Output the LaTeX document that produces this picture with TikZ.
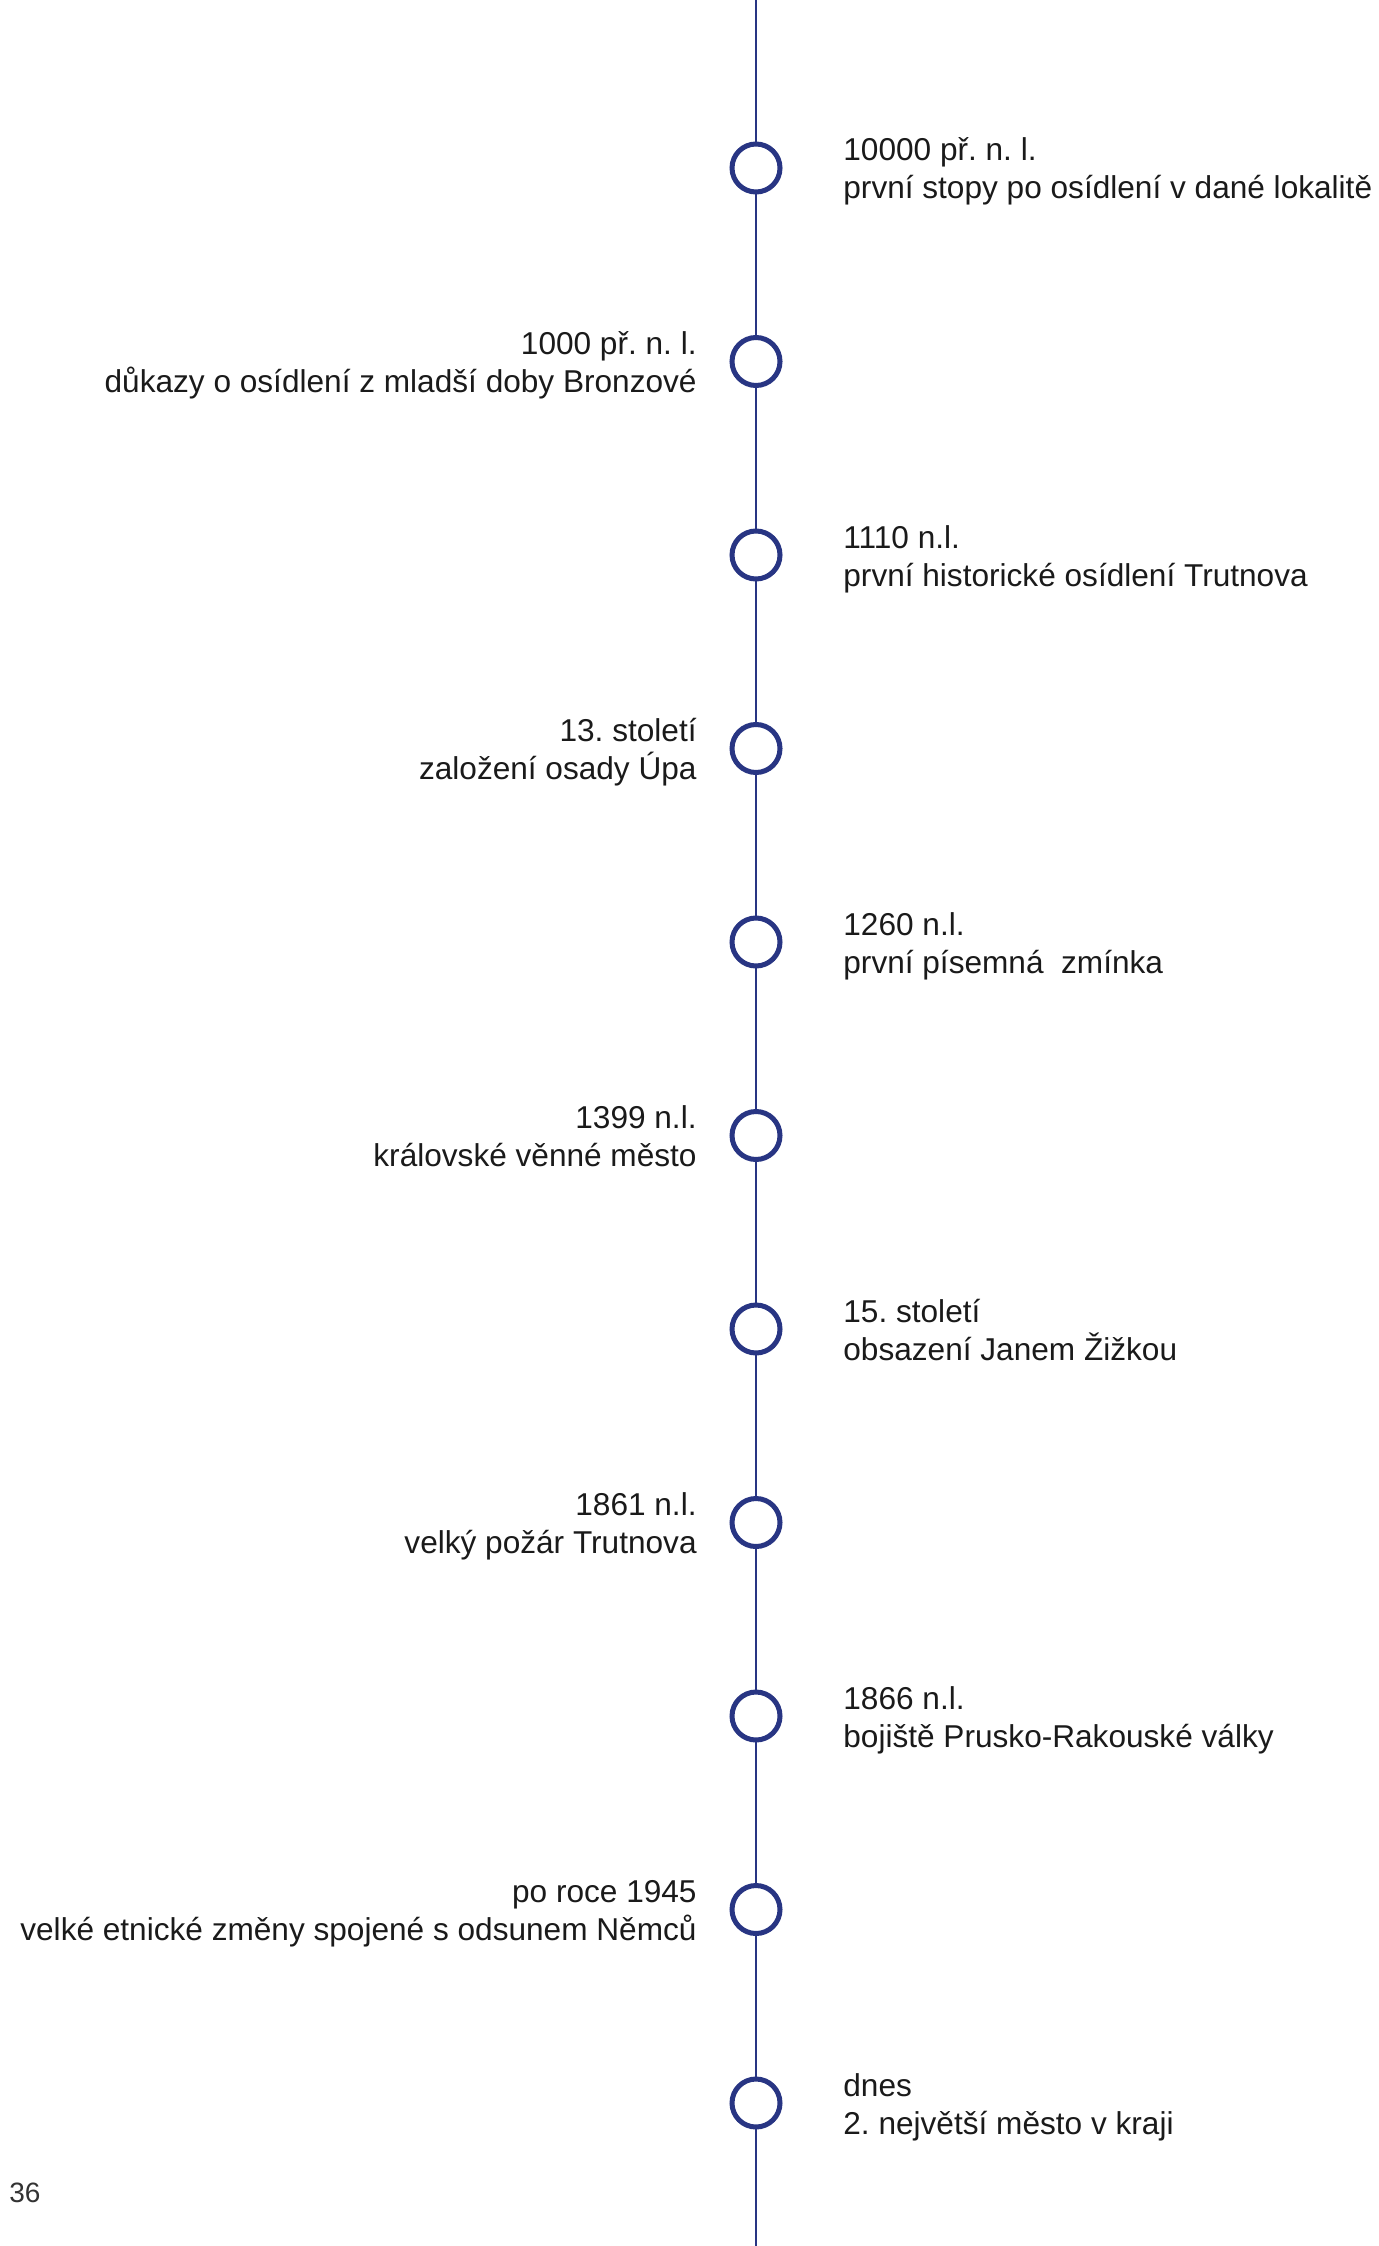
\documentclass[tikz,border=0pt]{standalone}
\usepackage{fontspec}
\setmainfont{Liberation Sans}
\usetikzlibrary{calc}
\frenchspacing
\definecolor{linenavy}{HTML}{283583}
\definecolor{textblack}{HTML}{1A1A1A}
\definecolor{pagegray}{HTML}{333333}
\tikzset{
  event/.style={circle, draw=linenavy, line width=2.5pt, fill=white, minimum size=24pt, inner sep=0pt},
  eventtext/.style={font=\fontsize{15.8}{19}\selectfont, text=textblack, inner sep=0pt},
}
\begin{document}
\begin{tikzpicture}[x=0.5pt,y=-0.5pt]
		\useasboundingbox (0,0) rectangle (1379,2246);
		
		\coordinate (top) at (756,0);
		\coordinate (bottom) at (756,2246);
		\draw[linenavy, line width=1.4pt] (top) -- (bottom);
		
		\foreach \yr/\what [count=\i from 0] in {
			{10000 př. n. l.}/{první stopy po osídlení v dané lokalitě},
			{1000 př. n. l.}/{důkazy o osídlení z mladší doby Bronzové},
			{1110 n.l.}/{první historické osídlení Trutnova},
			{13. století}/{založení osady Úpa},
			{1260 n.l.}/{první písemná~ zmínka},
			{1399 n.l.}/{královské věnné město},
			{15. století}/{obsazení Janem Žižkou},
			{1861 n.l.}/{velký požár Trutnova},
			{1866 n.l.}/{bojiště Prusko-Rakouské války},
			{po roce 1945}/{velké etnické změny spojené s odsunem Němců},
			{dnes}/{2. největší město v kraji}}{
			\node[event] (c\i) at (756,{168+193.5*\i}) {};
			\ifodd\i
				\node[eventtext, anchor=base east] (y\i) at ($(c\i)+(-59,-7)$) {\yr};
				\node[eventtext, anchor=base east] (d\i) at ($(c\i)+(-59,31)$) {\what};
			\else
				\node[eventtext, anchor=base west] (y\i) at ($(c\i)+(87,-7)$) {\yr};
				\node[eventtext, anchor=base west] (d\i) at ($(c\i)+(87,31)$) {\what};
			\fi
		}
		
		\node[anchor=base west, inner sep=0pt, text=pagegray, font=\fontsize{14}{16}\selectfont] (pagenum) at (9,2202) {36};
	\end{tikzpicture}
\end{document}
